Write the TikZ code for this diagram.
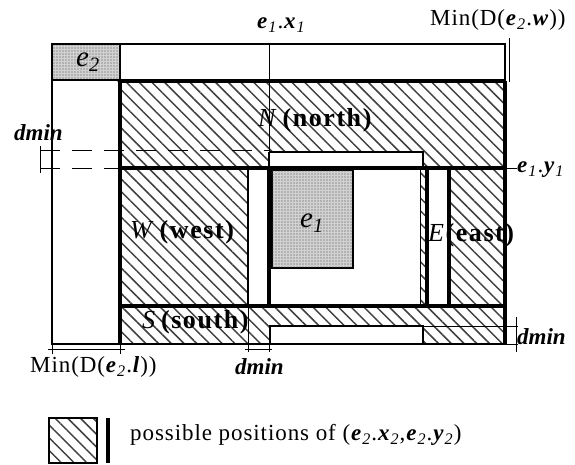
\documentclass[tikz,border=0pt]{standalone}
\usepackage{fontspec}
\setmainfont{Liberation Serif}
\usetikzlibrary{patterns.meta}
\newcommand{\myvar}[2]{\textbf{\textit{#1}}\textsubscript{\textit{#2}}}
\tikzset{
  hatch/.style={pattern={Lines[angle=-45,distance=9pt,line width=1.5pt]},pattern color=black!75},
  dotfill/.style={fill=gray!35,postaction={pattern={Dots[distance=3pt,radius=0.6pt]},pattern color=gray!60!black}},
  thk/.style={line width=3.6pt},
  med/.style={line width=2.6pt},
  thn/.style={line width=1.6pt},
  dim/.style={line width=0.8pt},
  lbl/.style={inner sep=0pt,font=\fontsize{23}{23}\selectfont\addfontfeature{LetterSpace=4}},
  dml/.style={inner sep=0pt,font=\fontsize{23}{23}\selectfont},
  reg/.style={inner sep=0pt,font=\fontsize{26}{26}\selectfont\addfontfeature{LetterSpace=6}},
  big/.style={inner sep=0pt,font=\fontsize{29}{29}\selectfont},
}
\begin{document}
\begin{tikzpicture}[x=1pt,y=-1pt]
\useasboundingbox (0,0) rectangle (575,465);
% hatched regions
\fill[hatch] (120,81) rectangle (505,168);
\fill[hatch] (120,306) rectangle (505,343);
\fill[hatch] (120,168) rectangle (248,306);
\fill[hatch] (420,168) rectangle (505,306);
% white patches
\fill[white] (269,152) rectangle (423,168);
\fill[white] (427,168) rectangle (449,306);
\fill[white] (270,326) rectangle (423,343);
% shaded boxes
\draw[thn,dotfill] (52,44) rectangle (120,80);
\draw[thn,dotfill] (272,170) rectangle (353,268);
% outer frame
\draw[thn] (52,44) rectangle (505,344);
% thick structure lines
\draw[thk] (120,81) -- (505,81);
\draw[thk] (120,81) -- (120,344);
\draw[thk] (120,168) -- (505,168);
\draw[thk] (120,306) -- (505,306);
\draw[thk] (505,81) -- (505,344);
\draw[med] (248,168) -- (248,306);
\draw[thk] (269,168) -- (269,306);
\draw[thn] (269,152) -- (269,168);
\draw[med] (269,152) -- (423,152) -- (423,168);
\draw[dim] (420,168) -- (420,306);
\draw[thk] (427,168) -- (427,306);
\draw[thk] (449,168) -- (449,306);
\draw[med] (270,343) -- (270,326) -- (423,326) -- (423,343);
\draw[thn] (120,344) -- (505,344);
\fill (120,81) circle (2.6pt);
% dimension lines
\draw[dim] (269,44) -- (269,152);
\draw[dim] (509,38) -- (509,82);
\draw[dim] (505,168) -- (517,168);
\draw[dim] (40,146) -- (40,173);
\draw[dim,dash pattern=on 20pt off 12pt] (40,150) -- (269,150);
\draw[dim,dash pattern=on 20pt off 12pt] (40,168) -- (120,168);
\draw[dim] (48,349) -- (125,349);
\draw[dim] (52,344) -- (52,354);
\draw[dim] (120,344) -- (120,354);
\draw[dim] (248,306) -- (248,352);
\draw[dim] (269,326) -- (269,352);
\draw[dim] (245,349) -- (272,349);
\draw[dim] (423,326) -- (518,326);
\draw[dim] (505,344) -- (518,344);
\draw[dim] (516,317) -- (516,352);
% labels
\node[lbl,anchor=west] (ex) at (257,25) {\myvar{e}{1}.\myvar{x}{1}};
\node[lbl,anchor=west] (minw) at (430,20) {Min(D(\myvar{e}{2}.\textbf{\textit{w}}))};
\node[dml,anchor=west] (dminl) at (14,133) {\textbf{\textit{dmin}}};
\node[lbl,anchor=west] (ey) at (517,170) {\myvar{e}{1}.\myvar{y}{1}};
\node[reg,anchor=west] (north) at (258,120) {\textit{N}\,\textbf{(north)}};
\node[reg,anchor=west] (west) at (130,232) {\textit{W}\,\textbf{(west)}};
\node[reg,anchor=west] (east) at (428,235) {\textit{E}\textbf{(east)}};
\node[reg,anchor=west] (south) at (142,322) {\textit{S}\,\textbf{(south)}};
\node[big] (eone) at (312,223) {\textit{e}\textsubscript{\textit{1}}};
\node[big] (etwo) at (88,62) {\textit{e}\textsubscript{\textit{2}}};
\node[lbl,anchor=west] (minl) at (30,367) {Min(D(\myvar{e}{2}.\textbf{\textit{l}}))};
\node[dml,anchor=west] (dminb) at (235,367) {\textbf{\textit{dmin}}};
\node[dml,anchor=west] (dminr) at (517,337) {\textbf{\textit{dmin}}};
% legend
\draw[thn,hatch] (49,418) rectangle (97,463);
\draw[line width=4pt] (108,418) -- (108,463);
\node[lbl,anchor=west] (leg) at (130,435) {possible positions of (\myvar{e}{2}.\myvar{x}{2},\myvar{e}{2}.\myvar{y}{2})};
\end{tikzpicture}
\end{document}
